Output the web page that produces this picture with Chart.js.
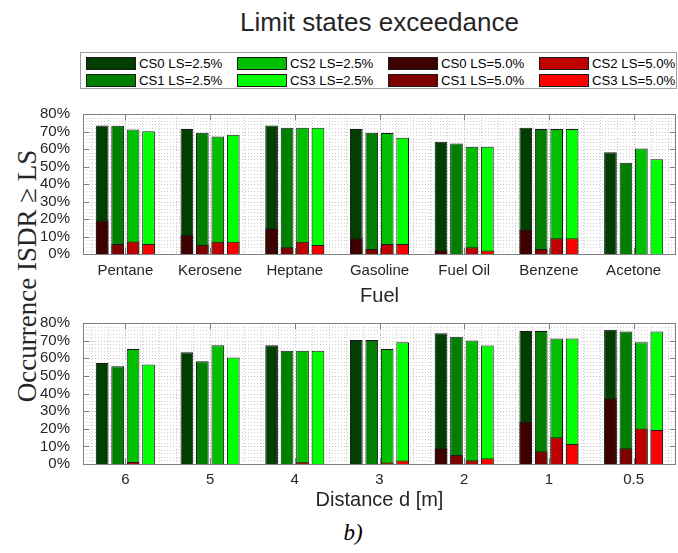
<!DOCTYPE html>
<html>
<head>
<meta charset="utf-8">
<script src="https://cdn.jsdelivr.net/npm/chart.js@4.4.1/dist/chart.umd.min.js"></script>
<style>
  body { margin: 0; background: #fff; width: 678px; height: 553px; position: relative; overflow: hidden;
         font-family: "Liberation Sans", Arial, sans-serif; }
  #title { position: absolute; left: 83px; width: 593px; top: 9px; text-align: center;
           font-size: 26px; line-height: 26px; color: #262626; }
  #legend { position: absolute; left: 80px; top: 52px; width: 597px; height: 37px;
            border: 1px solid #a0a0a0; box-sizing: border-box; }
  .sw { position: absolute; width: 50px; height: 13px; border: 1px solid #1a1a1a; box-sizing: border-box; }
  .lbl { position: absolute; font-size: 13.2px; line-height: 14px; color: #000; white-space: nowrap; }
  #ylab { position: absolute; left: -173px; top: 261px; width: 400px; height: 30px; line-height: 30px;
          text-align: center; transform: rotate(-90deg); font-family: "Liberation Serif", "DejaVu Serif", serif;
          font-size: 27px; color: #262626; white-space: nowrap; }
  #tag { position: absolute; left: 323px; width: 60px; top: 521px; text-align: center;
         font-family: "Liberation Serif", serif; font-style: italic; font-size: 23px; line-height: 24px; color: #000; }
  .box { position: absolute; left: 0; width: 678px; }
</style>
</head>
<body>
<div id="title">Limit states exceedance</div>
<div id="legend"></div>
<div id="ylab">Occurrence ISDR ≥ LS</div>
<div class="box" style="top:100px;height:206px"><canvas id="fuelChart" width="678" height="206"></canvas></div>
<div class="box" style="top:309px;height:207px"><canvas id="distChart" width="678" height="207"></canvas></div>
<div id="tag">b)</div>

<script>
// categories
const fuels = ["Pentane", "Kerosene", "Heptane", "Gasoline", "Fuel Oil", "Benzene", "Acetone"];
const distances = ["6", "5", "4", "3", "2", "1", "0.5"];

// fuel plot, LS = 2.5%
const fuelCS0_25 = [73.5, 71.4, 73.4, 71.4, 64.2, 72.2, 58.2];
const fuelCS1_25 = [73.3, 69.3, 72.2, 69.3, 63.2, 71.4, 52.1];
const fuelCS2_25 = [71.2, 67.2, 72.1, 69.2, 61.3, 71.4, 60.3];
const fuelCS3_25 = [70.2, 68.2, 72.1, 66.4, 61.3, 71.4, 54.2];
// fuel plot, LS = 5.0%
const fuelCS0_50 = [19.1, 10.9, 14.7, 9.0, 2.1, 14.0, 0];
const fuelCS1_50 = [5.7, 5.2, 3.8, 2.9, 0, 2.9, 0];
const fuelCS2_50 = [7.1, 7.0, 7.0, 5.7, 3.8, 9.0, 0];
const fuelCS3_50 = [5.7, 7.0, 5.2, 5.7, 2.0, 9.0, 0];

// distance plot, LS = 2.5%
const distCS0_25 = [57.3, 63.4, 67.4, 70.3, 74.2, 75.4, 76.2];
const distCS1_25 = [55.4, 58.3, 64.2, 70.3, 72.2, 75.4, 75.2];
const distCS2_25 = [65.3, 67.4, 64.2, 65.3, 70.1, 71.2, 69.1];
const distCS3_25 = [56.4, 60.4, 64.2, 69.1, 67.3, 71.2, 75.2];
// distance plot, LS = 5.0%
const distCS0_50 = [0, 0, 0, 0, 9.0, 24.0, 37.3];
const distCS1_50 = [0, 0, 0, 0, 5.1, 7.3, 9.0];
const distCS2_50 = [1.2, 0, 1.0, 0.9, 2.1, 15.2, 20.2];
const distCS3_50 = [0, 0, 0, 2.0, 3.2, 11.3, 19.3];

const seriesLabels = ["CS0 LS=2.5%", "CS1 LS=2.5%", "CS2 LS=2.5%", "CS3 LS=2.5%",
                      "CS0 LS=5.0%", "CS1 LS=5.0%", "CS2 LS=5.0%", "CS3 LS=5.0%"];
const seriesColors = ["#003f00", "#007f00", "#00bf00", "#00ff00",
                      "#3f0000", "#7f0000", "#bf0000", "#ff0000"];
const stackIds = ["cs0", "cs1", "cs2", "cs3", "cs0", "cs1", "cs2", "cs3"];

const yTicksMajor = [0, 10, 20, 30, 40, 50, 60, 70, 80];

// legend, filled column by column like the original
const legend = document.getElementById("legend");
seriesLabels.forEach((label, i) => {
  const col = Math.floor(i / 2);
  const row = i % 2;
  const sw = document.createElement("div");
  sw.className = "sw";
  sw.style.left = 4.5 + col * 151 + "px";
  sw.style.top = (row === 0 ? 4 : 21) + "px";
  sw.style.background = seriesColors[i];
  legend.appendChild(sw);
  const t = document.createElement("div");
  t.className = "lbl";
  t.style.left = 58 + col * 151 + "px";
  t.style.top = (row === 0 ? 3.5 : 20.5) + "px";
  t.textContent = label;
  legend.appendChild(t);
});

// dotted grid + box with inward ticks, positions from the chart scales
const gridBox = {
  id: "gridBox",
  beforeDatasetsDraw(chart) {
    const { ctx, chartArea: a, scales } = chart;
    const xs = scales.x, ys = scales.y;
    ctx.save();
    ctx.lineWidth = 1;
    ctx.setLineDash([1, 2]);
    for (let v = 0; v <= 80; v += 2) {
      const y = Math.round(ys.getPixelForValue(v)) + 0.5;
      ctx.strokeStyle = v % 10 === 0 ? "#bdbdbd" : "#cfcfcf";
      ctx.beginPath(); ctx.moveTo(a.left, y); ctx.lineTo(a.right, y); ctx.stroke();
    }
    const n = chart.data.labels.length;
    for (let k = -2; k <= n * 5 + 2; k++) {
      const v = k / 5;
      const x = Math.round(xs.getPixelForValue(v)) + 0.5;
      if (x <= a.left + 1 || x >= a.right - 1) continue;
      ctx.strokeStyle = k % 5 === 0 ? "#bdbdbd" : "#cfcfcf";
      ctx.beginPath(); ctx.moveTo(x, a.top); ctx.lineTo(x, a.bottom); ctx.stroke();
    }
    ctx.restore();
  },
  afterDatasetsDraw(chart) {
    const { ctx, chartArea: a, scales } = chart;
    const xs = scales.x, ys = scales.y;
    ctx.save();
    ctx.strokeStyle = "#808080";
    ctx.lineWidth = 1;
    ctx.beginPath();
    yTicksMajor.forEach((v) => {
      const y = Math.round(ys.getPixelForValue(v)) + 0.5;
      ctx.moveTo(a.left, y); ctx.lineTo(a.left + 6, y);
      ctx.moveTo(a.right, y); ctx.lineTo(a.right - 6, y);
    });
    chart.data.labels.forEach((_, i) => {
      const x = Math.round(xs.getPixelForValue(i)) + 0.5;
      ctx.moveTo(x, a.top); ctx.lineTo(x, a.top + 6);
      ctx.moveTo(x, a.bottom); ctx.lineTo(x, a.bottom - 6);
    });
    ctx.stroke();
    ctx.strokeRect(Math.round(a.left) + 0.5, Math.round(a.top) + 0.5,
                   Math.round(a.right - a.left) - 1, Math.round(a.bottom - a.top));
    ctx.restore();
  },
};

function plotBars(canvasId, labels, values, xTitle, tickPad, titlePad) {
  const datasets = values.map((data, i) => ({
    label: seriesLabels[i],
    data: data,
    stack: stackIds[i],
    order: i < 4 ? 1 : 0, // LS=5.0% bars in front
    backgroundColor: seriesColors[i],
    borderColor: "#1a1a1a",
    borderWidth: 1,
    borderSkipped: "bottom",
    categoryPercentage: 0.73,
    barPercentage: 0.82,
  }));

  return new Chart(document.getElementById(canvasId), {
    type: "bar",
    data: { labels: labels, datasets: datasets },
    options: {
      responsive: false,
      animation: false,
      layout: { padding: { top: 14, right: 2, left: 0, bottom: 0 } },
      plugins: { legend: { display: false }, tooltip: { enabled: false } },
      scales: {
        x: {
          stacked: true,
          grid: { display: false },
          border: { display: false },
          ticks: { color: "#262626", padding: tickPad, font: { family: "Liberation Sans", size: 15 } },
          title: {
            display: true,
            text: xTitle,
            color: "#262626",
            padding: { top: 0, bottom: titlePad },
            font: { family: "Liberation Sans", size: 20, lineHeight: 1 },
          },
          afterFit: (scale) => { scale.height = 52; },
        },
        y: {
          stacked: false,
          min: 0,
          max: 80,
          grid: { display: false },
          border: { display: false },
          ticks: {
            stepSize: 10,
            autoSkip: false,
            padding: 5,
            color: "#262626",
            font: { family: "Liberation Sans", size: 15 },
            callback: (v) => v + "%",
          },
          afterFit: (scale) => { scale.width = 83; },
        },
      },
    },
    plugins: [gridBox],
  });
}

plotBars("fuelChart", fuels,
  [fuelCS0_25, fuelCS1_25, fuelCS2_25, fuelCS3_25, fuelCS0_50, fuelCS1_50, fuelCS2_50, fuelCS3_50],
  "Fuel", 0, 0);
plotBars("distChart", distances,
  [distCS0_25, distCS1_25, distCS2_25, distCS3_25, distCS0_50, distCS1_50, distCS2_50, distCS3_50],
  "Distance d [m]", -1, 6);
</script>
</body>
</html>
